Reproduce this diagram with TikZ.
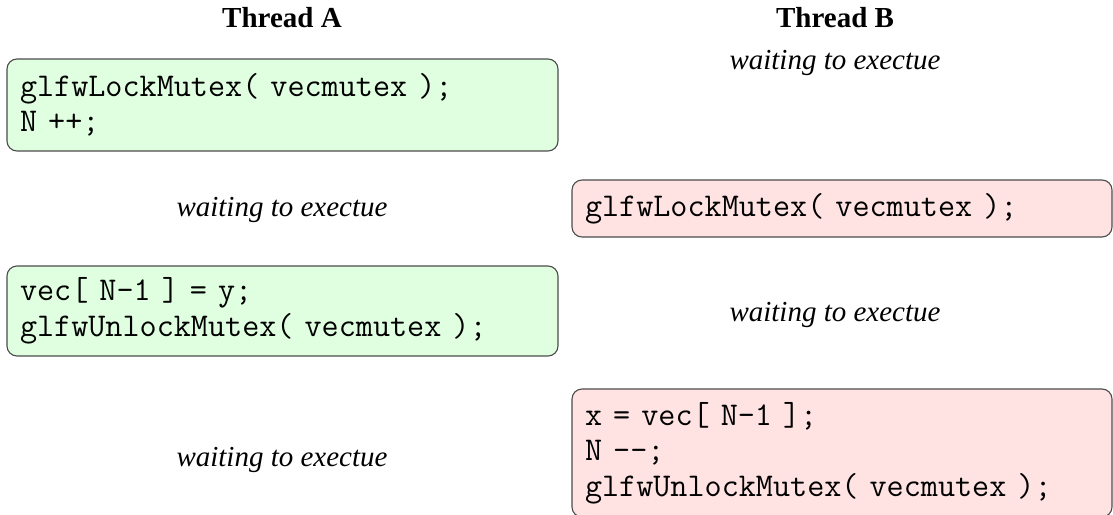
\documentclass[tikz,border=0pt]{standalone}
\usepackage{fontspec}
\setmainfont{Liberation Serif}
\usepackage{tikz}

\tikzset{
  codebox/.style={draw=black!70, line width=1.1pt, rounded corners=10pt,
    align=left, inner xsep=13pt, inner ysep=0pt,
    font=\ttfamily\fontsize{33.2}{35.5}\selectfont},
  threadA/.style={codebox, fill=green!12, text width=525pt},
  threadB/.style={codebox, fill=red!11, text width=514pt},
  waitlabel/.style={font=\itshape\fontsize{29}{34}\selectfont},
  headlabel/.style={font=\bfseries\fontsize{29}{34}\selectfont}
}

\begin{document}
\begin{tikzpicture}[x=1pt,y=-1pt]
\useasboundingbox (0,0) rectangle (1113,514);
\clip (0,0) rectangle (1113,514);
% headings
\node[headlabel] (headA) at (282,18) {Thread A};
\node[headlabel] (headB) at (835,18) {Thread B};
% first step
\node[threadA, minimum height=92pt] (lockA) at (282.5,105)
  {glfwLockMutex( vecmutex );\\N ++;};
\node[waitlabel] (waitB1) at (835,63) {waiting to exectue};
% second step
\node[waitlabel] (waitA1) at (282,210) {waiting to exectue};
\node[threadB, minimum height=57pt] (lockB) at (842,208.5)
  {glfwLockMutex( vecmutex );};
% third step
\node[threadA, minimum height=90pt] (storeA) at (282.5,311)
  {vec[ N-1 ] = y;\\glfwUnlockMutex( vecmutex );};
\node[waitlabel] (waitB2) at (835,315) {waiting to exectue};
% fourth step
\node[waitlabel] (waitA2) at (282,460) {waiting to exectue};
\node[threadB, minimum height=128pt] (popB) at (842,453)
  {x = vec[ N-1 ];\\N -{}-;\\glfwUnlockMutex( vecmutex );};
\end{tikzpicture}
\end{document}
